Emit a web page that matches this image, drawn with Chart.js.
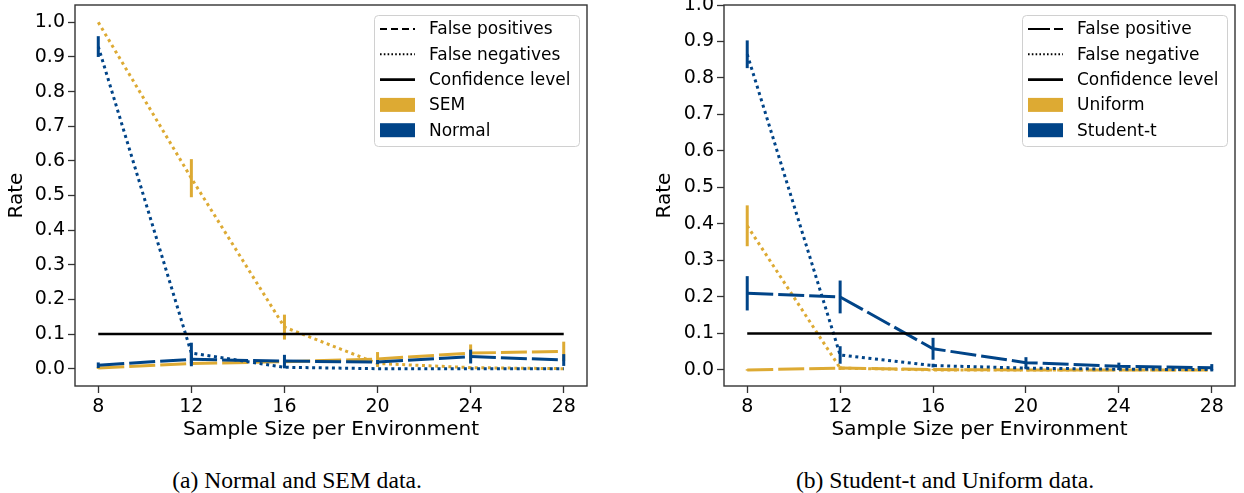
<!DOCTYPE html>
<html><head><meta charset="utf-8">
<script src="https://cdn.jsdelivr.net/npm/chart.js@4.4.1/dist/chart.umd.min.js"></script>
<style>
html,body{margin:0;padding:0;background:#fff;width:1244px;height:493px;overflow:hidden;position:relative}
#w1{position:absolute;left:0;top:0;width:610px;height:445px}
#w2{position:absolute;left:640px;top:0;width:604px;height:445px}
.cap{position:absolute;top:466px;font-family:"Liberation Serif","Times New Roman",serif;font-size:23.6px;line-height:28px;color:#000;white-space:nowrap;transform:translateX(-50%)}
</style></head>
<body>
<div id="w1"><canvas id="c1" width="610" height="445"></canvas></div>
<div id="w2"><canvas id="c2" width="604" height="445"></canvas></div>
<div class="cap" style="left:297px">(a) Normal and SEM data.</div>
<div class="cap" style="left:945px">(b) Student-t and Uniform data.</div>
<script>
// ---------- data ----------
const sampleSizes = [8, 12, 16, 20, 24, 28];
const xTickValues = [8, 12, 16, 20, 24, 28];
const yTickValues = [0.0, 0.1, 0.2, 0.3, 0.4, 0.5, 0.6, 0.7, 0.8, 0.9, 1.0];
const confidenceLevel = 0.1;

// (a) Normal and SEM data
const semFalsePos      = [0.002, 0.015, 0.020, 0.028, 0.045, 0.050];
const semFalsePosErr   = [0.003, 0.004, 0.005, 0.020, 0.025, 0.028];
const semFalseNeg      = [1.000, 0.550, 0.120, 0.015, 0.003, 0.000];
const semFalseNegErr   = [0.000, 0.055, 0.036, 0.010, 0.003, 0.000];
const normalFalsePos    = [0.010, 0.027, 0.022, 0.019, 0.035, 0.025];
const normalFalsePosErr = [0.008, 0.020, 0.018, 0.006, 0.020, 0.017];
const normalFalseNeg    = [0.930, 0.045, 0.004, 0.000, 0.000, 0.000];
const normalFalseNegErr = [0.030, 0.030, 0.003, 0.000, 0.000, 0.000];

// (b) Student-t and Uniform data
const uniformFalsePos    = [0.000, 0.005, 0.001, 0.000, 0.000, 0.000];
const uniformFalsePosErr = [0.002, 0.004, 0.002, 0.000, 0.000, 0.000];
const uniformFalseNeg    = [0.395, 0.005, 0.000, 0.000, 0.000, 0.000];
const uniformFalseNegErr = [0.056, 0.005, 0.000, 0.000, 0.000, 0.000];
const studentFalsePos    = [0.210, 0.200, 0.058, 0.020, 0.010, 0.006];
const studentFalsePosErr = [0.047, 0.045, 0.030, 0.015, 0.010, 0.010];
const studentFalseNeg    = [0.865, 0.041, 0.012, 0.005, 0.002, 0.001];
const studentFalseNegErr = [0.038, 0.024, 0.005, 0.003, 0.002, 0.001];

const legendLabelsA = ['False positives', 'False negatives', 'Confidence level', 'SEM', 'Normal'];
const legendLabelsB = ['False positive', 'False negative', 'Confidence level', 'Uniform', 'Student-t'];

// ---------- styling ----------
const ORANGE = '#DDAA33', BLUE = '#004488', BLACK = '#000000';
const DASH = [26, 5], DOT = [3, 3.6];
Chart.defaults.font.family = "'DejaVu Sans', sans-serif";
Chart.defaults.color = '#000';

function series(vals, errs, color, dash, order) {
  return {
    data: sampleSizes.map((x, i) => ({x: x, y: vals[i]})),
    errors: errs, borderColor: color, backgroundColor: color,
    borderDash: dash, borderWidth: 3, borderCapStyle: 'butt',
    pointRadius: 0, pointHoverRadius: 0, fill: false, tension: 0, order: order
  };
}
function confLine() {
  return {
    data: [{x: sampleSizes[0], y: confidenceLevel}, {x: sampleSizes[sampleSizes.length - 1], y: confidenceLevel}],
    borderColor: BLACK, borderWidth: 2.6, pointRadius: 0, fill: false, order: 0
  };
}

const errorBars = {
  id: 'errorBars',
  afterDatasetDraw(chart, args) {
    const ds = chart.data.datasets[args.index];
    if (!ds.errors) return;
    const ys = chart.scales.y, ctx = chart.ctx;
    ctx.save();
    ctx.strokeStyle = ds.borderColor; ctx.lineWidth = 3; ctx.setLineDash([]);
    args.meta.data.forEach((pt, i) => {
      const e = ds.errors[i];
      if (!e) return;
      const v = ds.data[i].y;
      ctx.beginPath();
      ctx.moveTo(pt.x, ys.getPixelForValue(v - e));
      ctx.lineTo(pt.x, ys.getPixelForValue(v + e));
      ctx.stroke();
    });
    ctx.restore();
  }
};

const frame = {
  id: 'frame',
  afterDatasetsDraw(chart) {
    const {ctx, chartArea: a} = chart;
    ctx.save(); ctx.strokeStyle = '#333'; ctx.lineWidth = 1.4; ctx.setLineDash([]);
    ctx.strokeRect(a.left, a.top, a.right - a.left, a.bottom - a.top);
    ctx.restore();
  }
};

function makeLegend(labels, fpDash) {
  return {
    id: 'boxLegend',
    afterDraw(chart) {
      const {ctx, chartArea: a} = chart;
      const w = 205, h = 131;
      const L = a.right - 8 - w, T = a.top + 10;
      ctx.save();
      ctx.beginPath();
      ctx.roundRect(L + 0.5, T + 0.5, w, h, 4);
      ctx.fillStyle = 'rgba(255,255,255,0.85)'; ctx.fill();
      ctx.strokeStyle = '#d0d0d0'; ctx.lineWidth = 1; ctx.stroke();
      const hx0 = L + 6, hx1 = L + 41, tx = L + 55;
      ctx.font = "17px 'DejaVu Sans', sans-serif";
      ctx.textBaseline = 'middle'; ctx.textAlign = 'left';
      labels.forEach((lab, i) => {
        const cy = T + 14 + i * 25.3;
        ctx.setLineDash([]);
        if (i < 3) {
          ctx.strokeStyle = '#000';
          ctx.lineWidth = i === 2 ? 2.6 : 2;
          ctx.setLineDash(i === 0 ? fpDash : (i === 1 ? [1.6, 2.2] : []));
          ctx.beginPath(); ctx.moveTo(hx0, cy); ctx.lineTo(hx1, cy); ctx.stroke();
        } else {
          ctx.fillStyle = i === 3 ? ORANGE : BLUE;
          ctx.fillRect(hx0, cy - 7, hx1 - hx0, 14);
        }
        ctx.setLineDash([]);
        ctx.fillStyle = '#000';
        ctx.fillText(lab, tx, cy + 1);
      });
      ctx.restore();
    }
  };
}

function scales(yMin, yMax, yWidth, titlePad) {
  const grid = {drawOnChartArea: false, drawTicks: true, tickLength: 7, tickWidth: 1.3, tickColor: '#333'};
  return {
    x: {
      type: 'linear', min: 7, max: 29,
      afterBuildTicks: s => { s.ticks = xTickValues.map(v => ({value: v})); },
      afterFit: s => { s.height = 59; s.paddingLeft = 0; s.paddingRight = 0; },
      grid: grid, border: {display: false},
      ticks: {color: '#000', font: {size: 19}, padding: 3, maxRotation: 0, callback: v => String(v)},
      title: {display: true, text: 'Sample Size per Environment', color: '#000', font: {size: 20}, padding: {top: 0, bottom: 3}}
    },
    y: {
      type: 'linear', min: yMin, max: yMax,
      afterBuildTicks: s => { s.ticks = yTickValues.map(v => ({value: v})); },
      afterFit: s => { s.width = yWidth; s.paddingTop = 0; s.paddingBottom = 0; },
      grid: grid, border: {display: false},
      ticks: {color: '#000', font: {size: 19}, padding: 3, callback: v => Number(v).toFixed(1)},
      title: {display: true, text: 'Rate', color: '#000', font: {size: 20}, padding: {top: titlePad, bottom: 0}}
    }
  };
}

function commonOpts(yMin, yMax, yWidth, titlePad, padRight) {
  return {
    responsive: false, animation: false,
    layout: {padding: {top: 5, right: padRight, left: 0, bottom: 0}},
    plugins: {legend: {display: false}, tooltip: {enabled: false}},
    scales: scales(yMin, yMax, yWidth, titlePad)
  };
}

new Chart(document.getElementById('c1'), {
  type: 'line',
  data: {datasets: [
    confLine(),
    series(normalFalsePos, normalFalsePosErr, BLUE, DASH, 1),
    series(normalFalseNeg, normalFalseNegErr, BLUE, DOT, 2),
    series(semFalsePos, semFalsePosErr, ORANGE, DASH, 3),
    series(semFalseNeg, semFalseNegErr, ORANGE, DOT, 4)
  ]},
  options: commonOpts(-0.05, 1.05, 75, 5, 23),
  plugins: [errorBars, frame, makeLegend(legendLabelsA, [7, 4])]
});

new Chart(document.getElementById('c2'), {
  type: 'line',
  data: {datasets: [
    confLine(),
    series(studentFalsePos, studentFalsePosErr, BLUE, DASH, 1),
    series(studentFalseNeg, studentFalseNegErr, BLUE, DOT, 2),
    series(uniformFalsePos, uniformFalsePosErr, ORANGE, DASH, 3),
    series(uniformFalseNeg, uniformFalseNegErr, ORANGE, DOT, 4)
  ]},
  options: commonOpts(-0.044, 1.0, 84, 13, 9),
  plugins: [errorBars, frame, makeLegend(legendLabelsB, [22, 4])]
});
</script>
</body></html>
